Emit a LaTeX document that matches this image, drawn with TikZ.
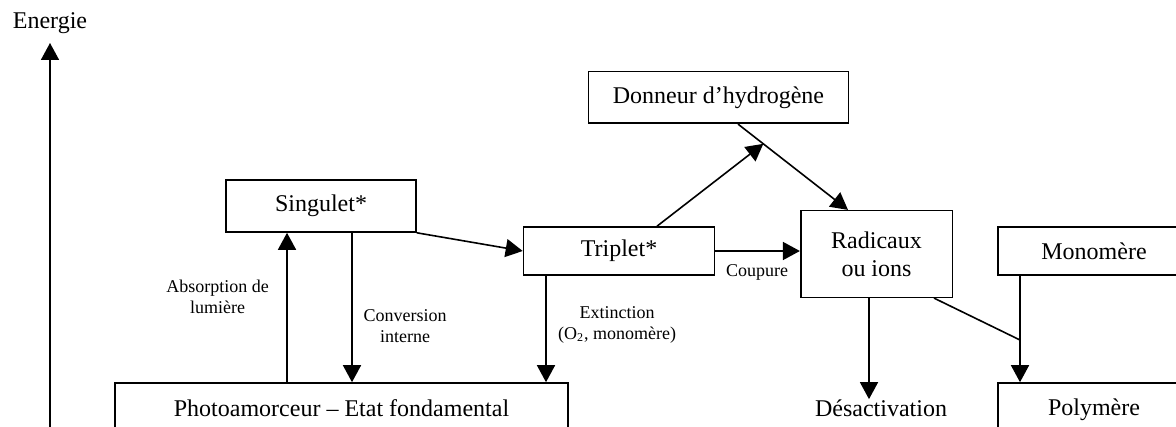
\documentclass[tikz,border=0pt]{standalone}
\usepackage{fontspec}
\setmainfont{Liberation Serif}
\usetikzlibrary{arrows.meta}
\tikzset{
    node distance=2cm,
    }

\begin{document}
\begin{tikzpicture}[x=0.5pt,y=-0.5pt,
boxnode/.style={rectangle, draw=black, line width=0.8pt, inner sep=0pt, align=center, font=\fontsize{12}{14}\selectfont},
labelnode/.style={inner sep=0pt, align=center, font=\fontsize{9}{10.5}\selectfont},
arr/.style={line width=0.8pt, -{Triangle[length=8.5pt,width=9pt]}},
]
\clip (0,0) rectangle (1176,427);

% energy axis
\node[inner sep=0pt, font=\fontsize{12}{14}\selectfont] (energie) at (50,23) {Energie};
\coordinate (axistop) at (50,43);
\coordinate (axisbot) at (50,440);
\draw[arr] (axisbot) -- (axistop);

\node[boxnode, minimum width=95pt, minimum height=26pt] (singulet) at (321,206) {Singulet*};
\node[boxnode, minimum width=226.5pt, minimum height=25pt] (photo) at (341.5,408) {Photoamorceur -- Etat fondamental};
\node[boxnode, minimum width=95.5pt, minimum height=24pt] (triplet) at (619,251) {Triplet*};
\node[boxnode, minimum width=130pt, minimum height=25.8pt] (donneur) at (718.5,97.5) {Donneur d’hydrogène};
\node[boxnode, minimum width=75.8pt, minimum height=43.3pt] (radicaux) at (876.5,254) {Radicaux\\ou ions};
\node[boxnode, minimum width=96pt, minimum height=24pt] (monomere) at (1094,251) {Monomère};
\node[boxnode, minimum width=96pt, minimum height=27pt] (polymere) at (1094,410) {Polymère};
\node[inner sep=0pt, font=\fontsize{12}{14}\selectfont] (desact) at (881,408) {Désactivation};

\node[labelnode] (absorp) at (217.5,297) {Absorption de\\lumière};
\node[labelnode] (conv) at (405,326) {Conversion\\interne};
\node[labelnode] (extinct) at (617,325) {Extinction\\(O\textsubscript{2}, monomère)};
\node[labelnode] (coupure) at (757,272) {Coupure};

\draw[arr] (photo.north -| 287,0) -- (singulet.south -| 287,0);
\draw[arr] (singulet.south -| 352,0) -- (photo.north -| 352,0);
\draw[arr] (singulet.south east) -- (triplet.west);
\draw[arr] (triplet.south -| 546,0) -- (photo.north -| 546,0);
\draw[arr] (triplet.east) -- (triplet.east -| radicaux.west);
\draw[arr] (donneur.south -| 738,0) -- coordinate[pos=0.23] (hjoin) (radicaux.north -| 848,0);
\draw[arr] (triplet.north -| 657,0) -- (hjoin);
\draw[arr] (radicaux.south -| 869,0) -- (desact.north -| 869,0);
\coordinate (mjoin) at (1020,340);
\draw[line width=0.8pt] (radicaux.south -| 934,0) -- (mjoin);
\draw[arr] (monomere.south -| 1020,0) -- (polymere.north -| 1020,0);
\end{tikzpicture}
\end{document}
